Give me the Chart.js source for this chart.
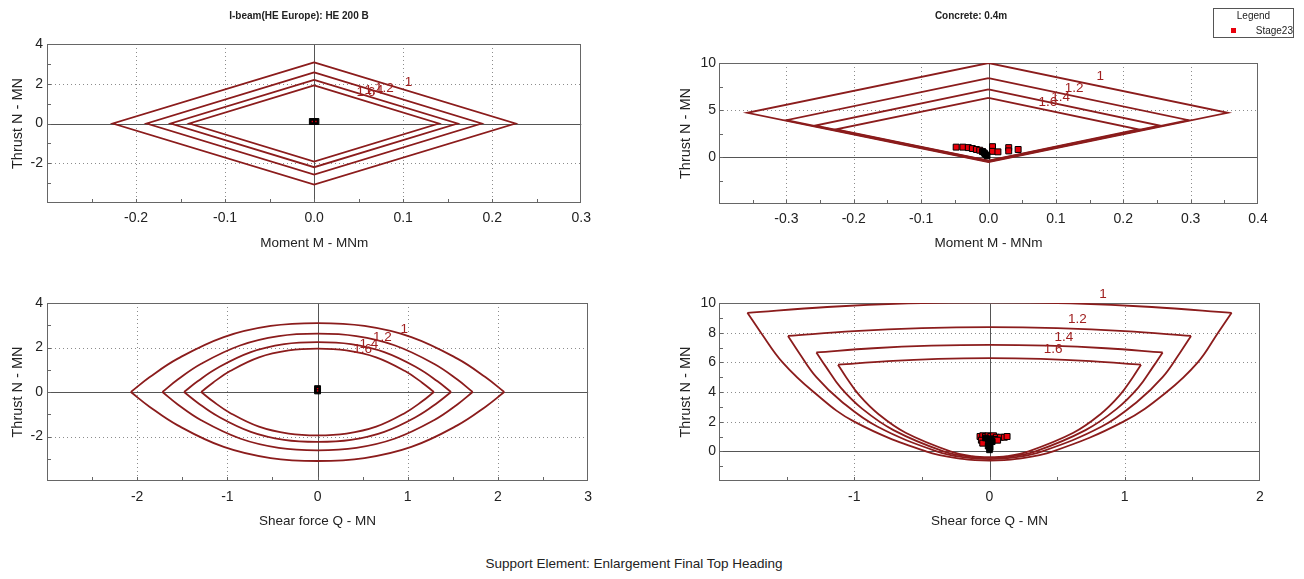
<!DOCTYPE html>
<html>
<head>
<meta charset="utf-8">
<script src="https://cdn.jsdelivr.net/npm/chart.js@4.4.1/dist/chart.umd.min.js"></script>
<style>
  body { margin: 0; background: #fff; width: 1304px; height: 579px; position: relative; overflow: hidden;
         font-family: "Liberation Sans", Arial, sans-serif; color: #222; }
  canvas { position: absolute; }
  #legend { position: absolute; left: 1213px; top: 8px; width: 79px; height: 28px; border: 1px solid #555; font-size: 10px; }
  #legend .head { position: absolute; left: 0; width: 79px; top: 1px; text-align: center; }
  #legend .sw { position: absolute; left: 17px; top: 19px; width: 5px; height: 5px; background: #e8000b; }
  #legend .name { position: absolute; right: 0; top: 16px; }
  #footer { position: absolute; left: 0; width: 1268px; top: 556px; text-align: center; font-size: 13.5px; }
</style>
</head>
<body>
<canvas id="mnSteel" width="598" height="260" style="left:0;top:0"></canvas>
<canvas id="mnConc" width="678" height="260" style="left:632px;top:0"></canvas>
<canvas id="qnSteel" width="600" height="257" style="left:0;top:280px"></canvas>
<canvas id="qnConc" width="672" height="257" style="left:632px;top:280px"></canvas>
<div id="legend"><div class="head">Legend</div><div class="sw"></div><div class="name">Stage23</div></div>
<div id="footer">Support Element: Enlargement Final Top Heading</div>
<script>
const factorLabels = ["1", "1.2", "1.4", "1.6"];

// I-beam, moment / thrust (closed diamonds, one row per factor)
const steelMnTicksX = [-0.3, -0.2, -0.1, 0, 0.1, 0.2, 0.3];
const steelMnTicksY = [-4, -2, 0, 2, 4];
const steelMnMoment = [
  [0, 0.226, 0, -0.226, 0],
  [0, 0.188, 0, -0.188, 0],
  [0, 0.161, 0, -0.161, 0],
  [0, 0.140, 0, -0.140, 0]
];
const steelMnThrust = [
  [3.07, 0, -3.07, 0, 3.07],
  [2.57, 0, -2.57, 0, 2.57],
  [2.2, 0, -2.2, 0, 2.2],
  [1.92, 0, -1.92, 0, 1.92]
];
const steelMnLabelM = [0.106, 0.079, 0.067, 0.058];
const steelMnLabelN = [2.05, 1.75, 1.68, 1.55];
const steelMnStageM = [-0.002, 0.002];
const steelMnStageN = [0.1, 0.1];

// Concrete, moment / thrust
const concMnTicksX = [-0.4, -0.3, -0.2, -0.1, 0, 0.1, 0.2, 0.3, 0.4];
const concMnTicksY = [-5, 0, 5, 10];
const concMnMoment = [
  [0, 0.355, 0, -0.358, 0],
  [0, 0.297, 0, -0.300, 0],
  [0, 0.254, 0, -0.257, 0],
  [0, 0.222, 0, -0.226, 0]
];
const concMnThrust = [
  [10, 4.7, -0.55, 4.7, 10],
  [8.4, 3.92, -0.48, 3.92, 8.4],
  [7.2, 3.35, -0.42, 3.35, 7.2],
  [6.3, 2.95, -0.38, 2.95, 6.3]
];
const concMnLabelM = [0.166, 0.127, 0.107, 0.088];
const concMnLabelN = [8.6, 7.3, 6.4, 5.8];
const concMnStageM = [-0.048, -0.038, -0.03, -0.024, -0.018, -0.013, -0.009, 0.006, 0.006, 0.014, 0.03, 0.03, 0.044];
const concMnStageN = [1.05, 1.05, 1.0, 0.9, 0.8, 0.72, 0.58, 1.1, 0.6, 0.55, 1.0, 0.65, 0.8];
const concMnCoreM = [-0.008, -0.006, -0.005, -0.003, -0.002];
const concMnCoreN = [0.55, 0.42, 0.3, 0.2, 0.12];

// I-beam, shear / thrust (upper and lower arcs)
const steelQnTicksX = [-3, -2, -1, 0, 1, 2, 3];
const steelQnTicksY = [-4, -2, 0, 2, 4];
const steelQnShear = [
  [-2.07, -1.86, -1.55, -1.04, -0.52, 0, 0.52, 1.04, 1.55, 1.86, 2.07],
  [-1.72, -1.55, -1.29, -0.86, -0.43, 0, 0.43, 0.86, 1.29, 1.55, 1.72],
  [-1.48, -1.33, -1.11, -0.74, -0.37, 0, 0.37, 0.74, 1.11, 1.33, 1.48],
  [-1.29, -1.16, -0.97, -0.65, -0.32, 0, 0.32, 0.65, 0.97, 1.16, 1.29]
];
const steelQnUpper = [
  [0, 0.67, 1.5, 2.47, 2.97, 3.1, 2.97, 2.47, 1.5, 0.67, 0],
  [0, 0.56, 1.27, 2.09, 2.51, 2.62, 2.51, 2.09, 1.27, 0.56, 0],
  [0, 0.48, 1.08, 1.79, 2.15, 2.24, 2.15, 1.79, 1.08, 0.48, 0],
  [0, 0.42, 0.94, 1.56, 1.87, 1.95, 1.87, 1.56, 0.94, 0.42, 0]
];
const steelQnLower = [
  [0, -0.67, -1.5, -2.47, -2.97, -3.1, -2.97, -2.47, -1.5, -0.67, 0],
  [0, -0.56, -1.27, -2.09, -2.51, -2.62, -2.51, -2.09, -1.27, -0.56, 0],
  [0, -0.48, -1.08, -1.79, -2.15, -2.24, -2.15, -1.79, -1.08, -0.48, 0],
  [0, -0.42, -0.94, -1.56, -1.87, -1.95, -1.87, -1.56, -0.94, -0.42, 0]
];
const steelQnLabelQ = [0.96, 0.72, 0.57, 0.5];
const steelQnLabelN = [2.82, 2.45, 2.13, 1.93];
const steelQnStageQ = [0, 0];
const steelQnStageN = [0.05, 0.15];

// Concrete, shear / thrust (top caps and lower cups)
const concQnTicksX = [-2, -1, 0, 1, 2];
const concQnTicksY = [-2, 0, 2, 4, 6, 8, 10];
const concQnCapShear = [
  [-1.79, -1.2, -0.6, 0, 0.6, 1.2, 1.79],
  [-1.49, -1.0, -0.5, 0, 0.5, 1.0, 1.49],
  [-1.28, -0.86, -0.43, 0, 0.43, 0.86, 1.28],
  [-1.12, -0.75, -0.38, 0, 0.38, 0.75, 1.12]
];
const concQnCapThrust = [
  [9.34, 9.73, 9.97, 10.05, 9.97, 9.73, 9.34],
  [7.78, 8.11, 8.31, 8.38, 8.31, 8.11, 7.78],
  [6.67, 6.95, 7.12, 7.18, 7.12, 6.95, 6.67],
  [5.84, 6.08, 6.23, 6.28, 6.23, 6.08, 5.84]
];
const concQnCupShear = [
  [-1.79, -1.69, -1.53, -1.3, -1.0, -0.47, -0.2, 0, 0.2, 0.47, 0.99, 1.31, 1.54, 1.69, 1.79],
  [-1.49, -1.41, -1.28, -1.09, -0.83, -0.39, -0.17, 0, 0.17, 0.39, 0.83, 1.09, 1.28, 1.41, 1.49],
  [-1.28, -1.21, -1.1, -0.94, -0.71, -0.34, -0.14, 0, 0.14, 0.34, 0.71, 0.94, 1.1, 1.21, 1.28],
  [-1.12, -1.06, -0.96, -0.82, -0.62, -0.29, -0.13, 0, 0.13, 0.29, 0.62, 0.82, 0.96, 1.06, 1.12]
];
const concQnCupThrust = [
  [9.34, 8, 6, 4, 2, 0, -0.51, -0.62, -0.51, 0, 2, 4, 6, 8, 9.34],
  [7.78, 6.67, 5, 3.33, 1.67, 0, -0.43, -0.52, -0.43, 0, 1.67, 3.33, 5, 6.67, 7.78],
  [6.67, 5.71, 4.29, 2.86, 1.43, 0, -0.37, -0.44, -0.37, 0, 1.43, 2.86, 4.29, 5.71, 6.67],
  [5.84, 5, 3.75, 2.5, 1.25, 0, -0.32, -0.39, -0.32, 0, 1.25, 2.5, 3.75, 5, 5.84]
];
const concQnLabelQ = [0.84, 0.65, 0.55, 0.47];
const concQnLabelN = [10.57, 8.93, 7.72, 6.87];
const concQnStageQ = [-0.07, -0.05, -0.03, -0.01, 0.01, 0.03, 0.05, 0.08, 0.11, 0.13, -0.06, -0.05, 0.04, 0.06];
const concQnStageN = [1.0, 1.05, 1.0, 1.05, 1.0, 1.05, 0.95, 0.95, 0.95, 1.0, 0.75, 0.55, 0.8, 0.75];
const concQnCoreQ = [-0.03, -0.01, 0.01, 0.02, 0, -0.01, 0.005, 0];
const concQnCoreN = [0.9, 0.8, 0.85, 0.65, 0.5, 0.35, 0.25, 0.1];

const CURVE = "#8b1c1c";
const STAGE = "#e8000b";
Chart.defaults.font.family = '"Liberation Sans", Arial, sans-serif';
Chart.defaults.color = "#222";

// frame, dotted grid, zero lines, inner tick marks and curve labels
const framePlugin = {
  id: "frame",
  beforeDatasetsDraw(chart, args, opts) {
    const { ctx, chartArea: a, scales: { x, y } } = chart;
    const line = (x1, y1, x2, y2) => { ctx.beginPath(); ctx.moveTo(x1, y1); ctx.lineTo(x2, y2); ctx.stroke(); };
    const eps = 1e-9;
    ctx.save();
    ctx.lineWidth = 1;
    ctx.strokeStyle = "#8c8c8c";
    ctx.setLineDash([1, 3]);
    x.ticks.forEach(t => {
      if (Math.abs(t.value) < eps || t.value <= x.min + eps || t.value >= x.max - eps) return;
      const px = Math.round(x.getPixelForValue(t.value)) + 0.5;
      line(px, a.top, px, a.bottom);
    });
    y.ticks.forEach(t => {
      if (Math.abs(t.value) < eps || t.value <= y.min + eps || t.value >= y.max - eps) return;
      const py = Math.round(y.getPixelForValue(t.value)) + 0.5;
      line(a.left, py, a.right, py);
    });
    ctx.setLineDash([]);
    ctx.strokeStyle = "#555";
    const zx = Math.round(x.getPixelForValue(0)) + 0.5;
    const zy = Math.round(y.getPixelForValue(0)) + 0.5;
    line(zx, a.top, zx, a.bottom);
    line(a.left, zy, a.right, zy);
    ctx.strokeStyle = "#666";
    const nx = Math.round((x.max - x.min) / opts.xMinor);
    for (let i = 1; i < nx; i++) {
      const px = Math.round(x.getPixelForValue(x.min + i * opts.xMinor)) + 0.5;
      line(px, a.bottom, px, a.bottom - 4);
    }
    const ny = Math.round((y.max - y.min) / opts.yMinor);
    for (let i = 1; i < ny; i++) {
      const py = Math.round(y.getPixelForValue(y.min + i * opts.yMinor)) + 0.5;
      line(a.left, py, a.left + 4, py);
    }
    ctx.strokeRect(Math.round(a.left) + 0.5, Math.round(a.top) + 0.5, Math.round(a.width) - 1, Math.round(a.height) - 1);
    ctx.restore();
  },
  afterDatasetsDraw(chart, args, opts) {
    const { ctx, scales: { x, y } } = chart;
    ctx.save();
    ctx.font = '13.5px "Liberation Sans", Arial, sans-serif';
    ctx.fillStyle = "#a02020";
    ctx.textAlign = "center";
    ctx.textBaseline = "middle";
    for (let i = factorLabels.length - 1; i >= 0; i--) {
      ctx.fillText(factorLabels[i], x.getPixelForValue(opts.labelX[i]), y.getPixelForValue(opts.labelY[i]));
    }
    ctx.restore();
  }
};

function curves(xs, ys, tension) {
  return xs.map((row, i) => ({
    data: row.map((v, j) => ({ x: v, y: ys[i][j] })),
    showLine: true, pointRadius: 0, borderColor: CURVE, borderWidth: 1.8, tension: tension, order: 3
  }));
}

function marks(xs, ys, fill, border, bw, r, order) {
  return {
    data: xs.map((v, j) => ({ x: v, y: ys[j] })),
    showLine: false, pointStyle: "rect", pointRadius: r, backgroundColor: fill,
    borderColor: border, borderWidth: bw, order: order
  };
}

function axis(horiz, ticks, dec, title, size, titlePad, tickPad) {
  return {
    type: "linear",
    position: horiz ? "bottom" : "left",
    min: ticks[0],
    max: ticks[ticks.length - 1],
    grid: { display: false, drawTicks: false },
    border: { display: false },
    afterBuildTicks: s => { s.ticks = ticks.map(v => ({ value: v })); },
    afterFit: s => { if (horiz) s.height = size; else s.width = size; },
    ticks: {
      autoSkip: false, maxRotation: 0, padding: tickPad, color: "#222", font: { size: 14 },
      callback: (v, i) => (i === 0 ? "" : Number(v).toFixed(dec))
    },
    title: {
      display: true, text: title, color: "#222", font: { size: horiz ? 13.5 : 14.5 },
      padding: horiz ? { top: 0, bottom: titlePad } : { top: titlePad, bottom: 0 }
    }
  };
}

// empty right-hand margin kept as a blank axis, so a full-width title stays centred on the canvas
function rightMargin(width) {
  return {
    type: "linear", position: "right", display: true,
    grid: { display: false, drawTicks: false }, border: { display: false },
    ticks: { display: false }, title: { display: false },
    afterFit: s => { s.width = width; }
  };
}

function makeChart(id, c) {
  const scales = {
    x: axis(true, c.xTicks, c.xDec, c.xTitle, c.xHeight, c.xTitlePad, c.xTickPad),
    y: axis(false, c.yTicks, 0, "Thrust N - MN", c.yWidth, c.yTitlePad, c.yTickPad)
  };
  if (c.rightGap) scales.gap = rightMargin(c.rightGap);
  return new Chart(document.getElementById(id), {
    type: "scatter",
    data: { datasets: c.datasets },
    options: {
      responsive: false,
      animation: false,
      devicePixelRatio: 1,
      layout: { padding: c.padding },
      plugins: {
        legend: { display: false },
        tooltip: { enabled: false },
        title: c.title
          ? { display: true, text: c.title, color: "#222", font: { size: 10, weight: "bold" }, padding: c.titlePad }
          : { display: false },
        frame: { xMinor: c.xMinor, yMinor: c.yMinor, labelX: c.labelX, labelY: c.labelY }
      },
      scales: scales
    },
    plugins: [framePlugin]
  });
}

makeChart("mnSteel", {
  title: "I-beam(HE Europe): HE 200 B", titlePad: { top: 10, bottom: 22 },
  padding: { left: 0, right: 0, top: 0, bottom: 0 }, rightGap: 10,
  xTicks: steelMnTicksX, yTicks: steelMnTicksY, xDec: 1, xMinor: 0.05, yMinor: 1,
  xTitle: "Moment M - MNm", xHeight: 57, xTitlePad: 9, xTickPad: 7,
  yWidth: 47, yTitlePad: 9, yTickPad: 4,
  labelX: steelMnLabelM, labelY: steelMnLabelN,
  datasets: [
    marks(steelMnStageM, steelMnStageN, STAGE, STAGE, 0, 1, 0),
    marks(steelMnStageM, steelMnStageN, "#000", "#000", 1, 4.2, 1)
  ].concat(curves(steelMnMoment, steelMnThrust, 0))
});

makeChart("mnConc", {
  title: "Concrete: 0.4m", titlePad: { top: 10, bottom: 41 },
  padding: { left: 0, right: 0, top: 0, bottom: 0 }, rightGap: 52,
  xTicks: concMnTicksX, yTicks: concMnTicksY, xDec: 1, xMinor: 0.05, yMinor: 2.5,
  xTitle: "Moment M - MNm", xHeight: 56, xTitlePad: 9, xTickPad: 7,
  yWidth: 87, yTitlePad: 45, yTickPad: 3,
  labelX: concMnLabelM, labelY: concMnLabelN,
  datasets: [
    marks(concMnCoreM, concMnCoreN, "#000", "#000", 1, 4, 0),
    marks(concMnStageM, concMnStageN, STAGE, "#000", 1, 4.2, 1)
  ].concat(curves(concMnMoment, concMnThrust, 0))
});

makeChart("qnSteel", {
  padding: { left: 0, right: 5, top: 23, bottom: 0 },
  xTicks: steelQnTicksX, yTicks: steelQnTicksY, xDec: 0, xMinor: 0.5, yMinor: 1,
  xTitle: "Shear force Q - MN", xHeight: 56, xTitlePad: 8, xTickPad: 8,
  yWidth: 47, yTitlePad: 9, yTickPad: 4,
  labelX: steelQnLabelQ, labelY: steelQnLabelN,
  datasets: [
    marks(steelQnStageQ, steelQnStageN, STAGE, STAGE, 0, 1, 0),
    marks(steelQnStageQ, steelQnStageN, "#000", "#000", 1, 4.2, 1)
  ].concat(curves(steelQnShear, steelQnUpper, 0.4))
   .concat(curves(steelQnShear, steelQnLower, 0.4))
});

makeChart("qnConc", {
  padding: { left: 0, right: 44, top: 23, bottom: 0 },
  xTicks: concQnTicksX, yTicks: concQnTicksY, xDec: 0, xMinor: 0.5, yMinor: 1,
  xTitle: "Shear force Q - MN", xHeight: 56, xTitlePad: 8, xTickPad: 8,
  yWidth: 87, yTitlePad: 45, yTickPad: 3,
  labelX: concQnLabelQ, labelY: concQnLabelN,
  datasets: [
    marks(concQnCoreQ, concQnCoreN, "#000", "#000", 1, 4, 0),
    marks(concQnStageQ, concQnStageN, STAGE, "#000", 1, 4.2, 1)
  ].concat(curves(concQnCapShear, concQnCapThrust, 0.4))
   .concat(curves(concQnCupShear, concQnCupThrust, 0.4))
});
</script>
</body>
</html>
